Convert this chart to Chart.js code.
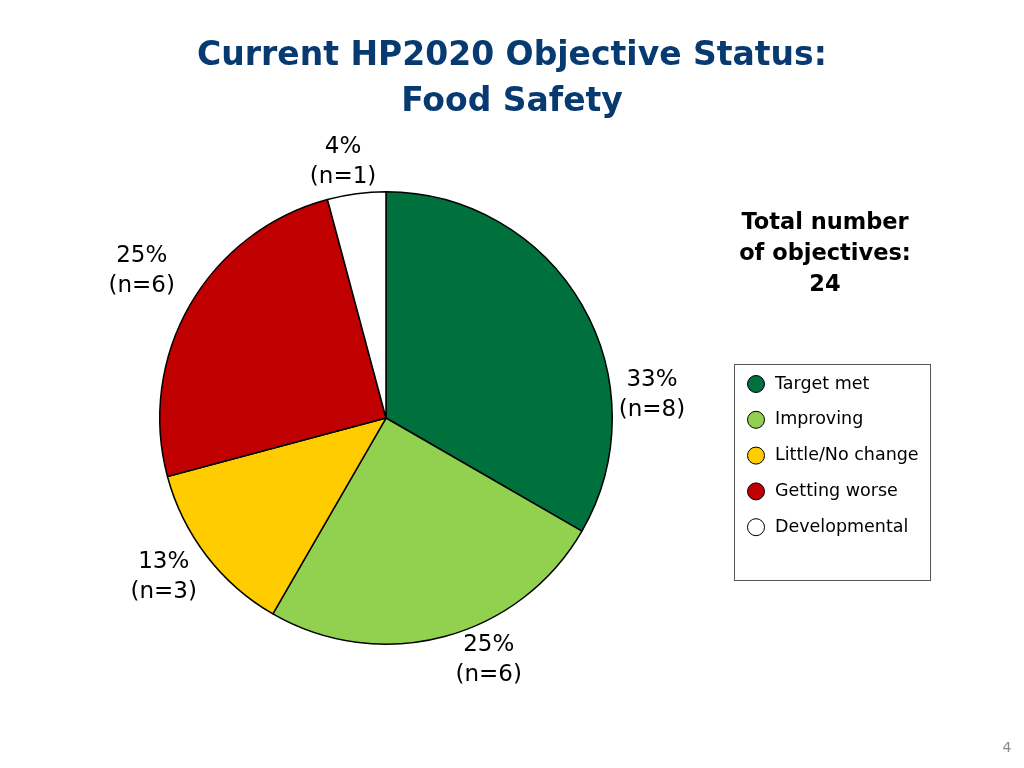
<!DOCTYPE html>
<html>
<head>
<meta charset="utf-8">
<script src="https://cdn.jsdelivr.net/npm/chart.js@4.4.1/dist/chart.umd.min.js"></script>
<style>
html,body{margin:0;padding:0;background:#fff;}
#wrap{position:relative;width:1024px;height:768px;}
canvas{display:block;}
</style>
</head>
<body>
<div id="wrap"><canvas id="c" width="1024" height="768"></canvas></div>
<script>
const titleLines = ["Current HP2020 Objective Status:", "Food Safety"];
const totalLines = ["Total number", "of objectives:", "24"];
const categories = ["Target met", "Improving", "Little/No change", "Getting worse", "Developmental"];
const counts = [8, 6, 3, 6, 1];
const percentLabels = ["33%", "25%", "13%", "25%", "4%"];
const nLabels = ["(n=8)", "(n=6)", "(n=3)", "(n=6)", "(n=1)"];
const colors = ["#00703C", "#92D050", "#FFCC00", "#C00000", "#FFFFFF"];
const pageNumber = "4";

const FONT = '"DejaVu Sans", Verdana, sans-serif';

const overlay = {
  id: 'overlay',
  afterDraw(chart) {
    const ctx = chart.ctx;
    const meta = chart.getDatasetMeta(0);
    ctx.save();
    // Title
    ctx.fillStyle = '#063A70';
    ctx.font = 'bold 33px ' + FONT;
    ctx.textAlign = 'center';
    ctx.textBaseline = 'middle';
    ctx.fillText(titleLines[0], 512, 56);
    ctx.fillText(titleLines[1], 512, 102);

    // total number
    ctx.fillStyle = '#000';
    ctx.font = 'bold 22.5px ' + FONT;
    totalLines.forEach((t, i) => ctx.fillText(t, 825, 223 + i * 31));

    // slice labels
    const shift = [25, -8, 2, 1, -2];
    const dist = [267, 263, 273, 285, 260];
    ctx.font = '23px ' + FONT;
    ctx.fillStyle = '#000';
    meta.data.forEach((arc, i) => {
      const mid = (arc.startAngle + arc.endAngle) / 2 + shift[i] * Math.PI / 180;
      const x = arc.x + Math.cos(mid) * dist[i];
      const y = arc.y + Math.sin(mid) * dist[i];
      ctx.fillText(percentLabels[i], x, y - 15);
      ctx.fillText(nLabels[i], x, y + 15);
    });

    // legend box
    ctx.strokeStyle = '#555';
    ctx.lineWidth = 1;
    ctx.strokeRect(734.5, 364.5, 196, 216);
    ctx.textAlign = 'left';
    ctx.font = '17.5px ' + FONT;
    categories.forEach((c, i) => {
      const y = 383 + i * 35.8;
      ctx.beginPath();
      ctx.arc(756, y + 1, 8.5, 0, Math.PI * 2);
      ctx.fillStyle = colors[i];
      ctx.fill();
      ctx.strokeStyle = '#000';
      ctx.lineWidth = 1;
      ctx.stroke();
      ctx.fillStyle = '#000';
      ctx.fillText(c, 775, y + 1);
    });

    // page number
    ctx.fillStyle = '#888';
    ctx.font = '14px ' + FONT;
    ctx.textAlign = 'center';
    ctx.fillText(pageNumber, 1007, 748);
    ctx.restore();
  }
};

new Chart(document.getElementById('c'), {
  type: 'pie',
  data: {
    labels: categories,
    datasets: [{
      data: counts,
      backgroundColor: colors,
      borderColor: '#000',
      borderWidth: 1.5
    }]
  },
  options: {
    responsive: false,
    animation: false,
    layout: { padding: { left: 159, right: 411, top: 190, bottom: 122 } },
    plugins: {
      legend: { display: false },
      title: { display: false },
      tooltip: { enabled: false }
    }
  },
  plugins: [overlay]
});
</script>
</body>
</html>
